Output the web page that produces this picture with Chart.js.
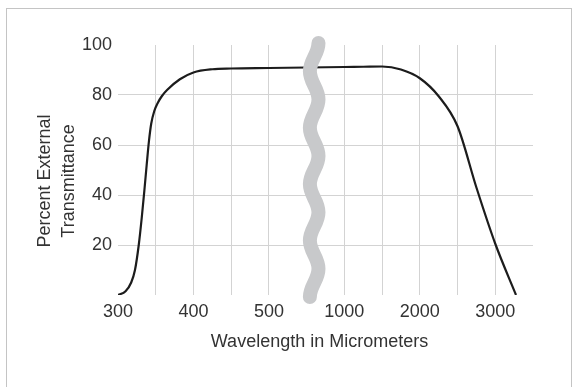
<!DOCTYPE html>
<html><head><meta charset="utf-8">
<script src="https://cdn.jsdelivr.net/npm/chart.js@4.4.1/dist/chart.umd.min.js"></script>
<style>html,body{margin:0;padding:0;background:#fff;}#wrap{width:574px;height:387px;position:relative;}</style>
</head><body><div id="wrap"><canvas id="c" width="574" height="387"></canvas></div>
<script>
// ---- data ----
const wavelengths   = [300, 310, 317.5, 322.5, 327.5, 331.5, 335, 338, 341,  344,  348,  353, 358,  365, 382,  400, 425,  450,  500,  1000, 1250, 1500, 1750, 2000, 2250, 2500, 2750, 3000, 3275];
const transmittance = [0,   1.5, 5,     10,    20,    31,    42,  52,  61.5, 68.5, 73.5, 77,  79.5, 82,  86.3, 89,  90.3, 90.6, 90.8, 91.2, 91.3, 91.4, 90.2, 86.7, 79.5, 67.5, 43,   20.5, 0];
const xTickLabels = [300, 400, 500, 1000, 2000, 3000];
const xGridValues = [350, 400, 450, 500, 1000, 1500, 2000, 2500, 3000];
const yTickLabels = [20, 40, 60, 80, 100];
const yGridValues = [20, 40, 60, 80];
const xTitle = 'Wavelength in Micrometers';
const yTitle = ['Percent External', 'Transmittance'];

// broken axis: 300-500 in steps of 50, then 1000-3500 in steps of 500
function axisPos(w) { return w <= 500 ? (w - 300) / 50 : 6 + (w - 1000) / 500; }
const BREAK_POS = 5.2;

const FONT = '"Liberation Sans", Arial, Helvetica, sans-serif';
const TXT = '#333333';

const decor = {
  id: 'decor',
  beforeDraw(chart) {
    const ctx = chart.ctx;
    ctx.save();
    ctx.strokeStyle = '#c4c4c4';
    ctx.lineWidth = 1;
    ctx.strokeRect(6.5, 8.5, 565, 400);
    ctx.restore();
  },
  afterDatasetsDraw(chart) {
    const ctx = chart.ctx, xs = chart.scales.x, ys = chart.scales.y;
    const cx = xs.getPixelForValue(BREAK_POS);
    const amp = 4.3;
    const top = ys.getPixelForValue(100) - 2;
    const bot = ys.getPixelForValue(0) + 2;
    const n = 9;
    const h = (bot - top) / n;
    ctx.save();
    ctx.strokeStyle = '#c8c9cb';
    ctx.lineWidth = 14;
    ctx.lineCap = 'round';
    ctx.lineJoin = 'round';
    ctx.beginPath();
    let px = cx + amp, py = top;
    ctx.moveTo(px, py);
    for (let i = 1; i <= n; i++) {
      const nx = cx + (i % 2 === 0 ? amp : -amp);
      const ny = top + i * h;
      ctx.bezierCurveTo(px, py + h * 0.4, nx, ny - h * 0.4, nx, ny);
      px = nx; py = ny;
    }
    ctx.stroke();
    ctx.restore();
  },
  afterDraw(chart) {
    const ctx = chart.ctx, a = chart.chartArea;
    ctx.save();
    ctx.fillStyle = TXT;
    ctx.font = '18px ' + FONT;
    ctx.textAlign = 'center';
    ctx.textBaseline = 'middle';
    ctx.fillText(xTitle, (a.left + a.right) / 2 - 6, 342);
    ctx.translate(57, (a.top + a.bottom) / 2 + 11);
    ctx.rotate(-Math.PI / 2);
    ctx.fillText(yTitle[0], 0, -12);
    ctx.fillText(yTitle[1], 0, 12);
    ctx.restore();
  }
};

const tickPosSet = new Map(xTickLabels.map(w => [axisPos(w), String(w)]));
const gridPosSet = new Set(xGridValues.map(axisPos));

new Chart(document.getElementById('c'), {
  type: 'line',
  data: {
    datasets: [{
      data: wavelengths.map((w, i) => ({ x: axisPos(w), y: transmittance[i] })),
      borderColor: '#1c1c1c',
      borderWidth: 2.2,
      pointRadius: 0,
      fill: false,
      cubicInterpolationMode: 'monotone'
    }]
  },
  options: {
    responsive: false,
    devicePixelRatio: 1,
    animation: false,
    layout: { padding: { left: 0, top: 45, right: 41, bottom: 0 } },
    plugins: { legend: { display: false }, tooltip: { enabled: false } },
    scales: {
      x: {
        type: 'linear', min: 0, max: 11,
        afterFit(s) { s.height = 92; },
        border: { display: false },
        grid: {
          drawTicks: false,
          lineWidth: 1,
          color: c => gridPosSet.has(c.tick && c.tick.value) ? '#d3d3d3' : 'rgba(0,0,0,0)'
        },
        ticks: {
          stepSize: 1, autoSkip: false, maxRotation: 0, padding: 6,
          color: TXT, font: { family: FONT, size: 18 },
          callback: v => tickPosSet.has(v) ? tickPosSet.get(v) : ''
        }
      },
      y: {
        min: 0, max: 100,
        afterFit(s) { s.width = 118; },
        border: { display: false },
        grid: {
          drawTicks: false,
          lineWidth: 1,
          color: c => yGridValues.includes(c.tick && c.tick.value) ? '#d3d3d3' : 'rgba(0,0,0,0)'
        },
        ticks: {
          stepSize: 20, padding: 6,
          color: TXT, font: { family: FONT, size: 18 },
          callback: v => yTickLabels.includes(v) ? String(v) : ''
        }
      }
    }
  },
  plugins: [decor]
});
</script>
</body></html>
